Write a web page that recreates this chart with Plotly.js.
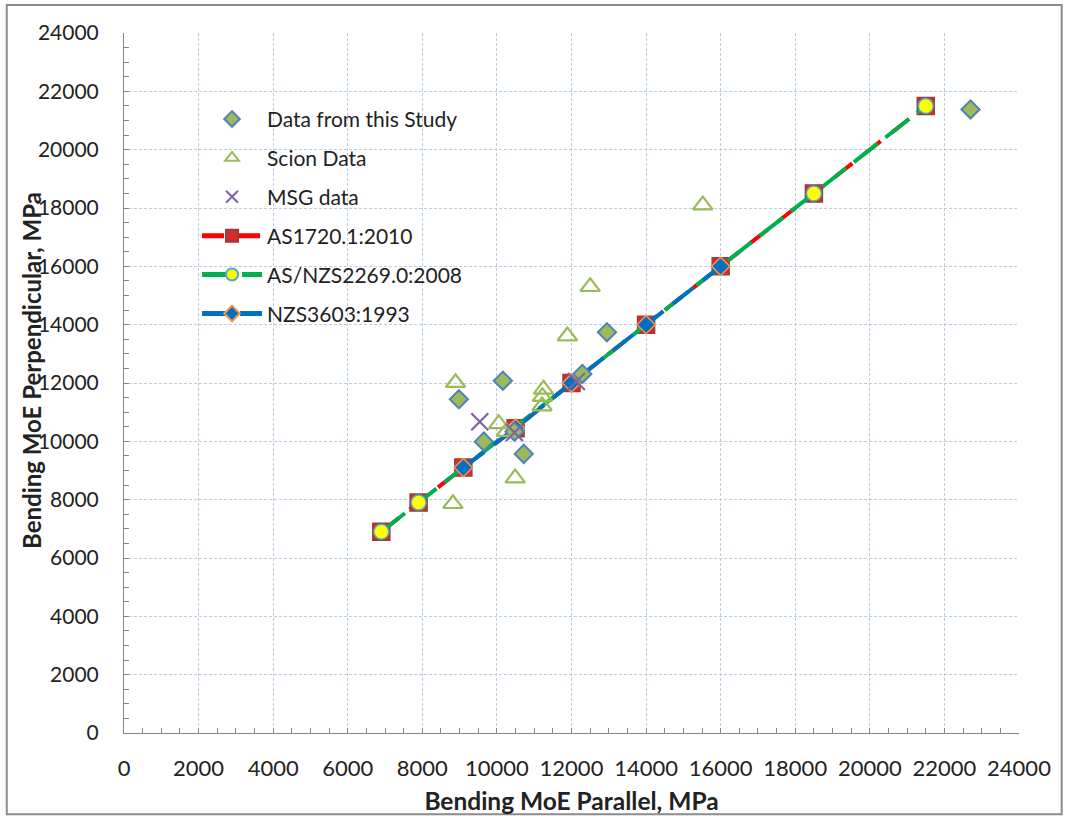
<!DOCTYPE html>
<html>
<head>
<meta charset="utf-8">
<script src="https://cdn.plot.ly/plotly-3.0.1.min.js"></script>
<style>
  html, body { margin: 0; padding: 0; background: #ffffff; }
  #chart { width: 1067px; height: 818px; }
</style>
</head>
<body>
<div id="chart"></div>
<script>
// ---- data ----
var studyX = [8980, 9650, 10160, 10470, 10720, 12290, 12950, 22700];
var studyY = [11440, 9990, 12080, 10330, 9570, 12310, 13740, 21380];

var scionX = [8890, 8820, 10050, 10250, 10490, 11250, 11220, 11210, 11890, 12500, 15520];
var scionY = [12010, 7860, 10600, 10330, 8740, 11780, 11530, 11210, 13610, 15300, 18100];

var msgX = [9540, 10470, 12130];
var msgY = [10670, 10300, 12050];

var as1720X = [6900, 7900, 9100, 10500, 12000, 14000, 16000, 18500, 21500];
var as1720Y = [6900, 7900, 9100, 10450, 12000, 14000, 16000, 18500, 21500];

var as2269X = [6900, 7900, 18500, 21500];
var as2269Y = [6900, 7900, 18500, 21500];

var nzs3603X = [9100, 10500, 12000, 14000, 16000];
var nzs3603Y = [9100, 10450, 12000, 14000, 16000];

var seriesNames = ['Data from this Study', 'Scion Data', 'MSG data',
                   'AS1720.1:2010', 'AS/NZS2269.0:2008', 'NZS3603:1993'];
var tickVals = [0, 2000, 4000, 6000, 8000, 10000, 12000, 14000, 16000, 18000, 20000, 22000, 24000];
var xTitle = 'Bending MoE Parallel, MPa';
var yTitle = 'Bending MoE Perpendicular, MPa';

var FONT = 'Lato, "Open Sans", sans-serif';

var traces = [
  {
    x: as1720X, y: as1720Y, name: seriesNames[3], type: 'scatter', mode: 'lines+markers',
    legendrank: 4, legendgroup: 'g4',
    line: { color: '#ff0000', width: 4, dash: '22px,14px' },
    marker: { symbol: 'square', size: 17, color: '#d42a2a',
              line: { color: '#9b3b3b', width: 1.5 } }
  },
  {
    x: as2269X, y: as2269Y, name: seriesNames[4], type: 'scatter', mode: 'lines+markers',
    legendrank: 5, legendgroup: 'g5',
    line: { color: '#00b050', width: 4, dash: '30px,10px' },
    marker: { symbol: 'circle', size: 15, color: '#ffff00',
              line: { color: '#4bacc6', width: 1.5 } }
  },
  {
    x: nzs3603X, y: nzs3603Y, name: seriesNames[5], type: 'scatter', mode: 'lines+markers',
    legendrank: 6, legendgroup: 'g6',
    line: { color: '#0070c0', width: 4, dash: '26px,12px' },
    marker: { symbol: 'diamond', size: 14, color: '#0070c0',
              line: { color: '#f79646', width: 1.5 } }
  },
  {
    x: studyX, y: studyY, name: seriesNames[0], type: 'scatter', mode: 'markers',
    legendrank: 1, legendgroup: 'g1',
    marker: { symbol: 'diamond', size: 14, color: '#9bbb59',
              line: { color: '#4f81bd', width: 2 } }
  },
  {
    x: scionX, y: scionY, name: seriesNames[1], type: 'scatter', mode: 'markers',
    legendrank: 2, legendgroup: 'g2',
    marker: { symbol: 'triangle-up-open', size: 17, color: '#9bbb59',
              line: { color: '#9bbb59', width: 2.2 } }
  },
  {
    x: msgX, y: msgY, name: seriesNames[2], type: 'scatter', mode: 'markers',
    legendrank: 3, legendgroup: 'g3',
    marker: { symbol: 'x-thin-open', size: 17, color: '#8064a2',
              line: { color: '#8064a2', width: 2.2 } }
  }
];

var axisCommon = {
  range: [0, 24000],
  tickvals: tickVals,
  ticktext: tickVals.map(String),
  showline: true, linecolor: '#868686', linewidth: 1,
  ticks: 'inside', ticklen: 5, tickcolor: '#868686', tickwidth: 1,
  showgrid: true, gridcolor: '#b9cde5', gridwidth: 1, griddash: '3px,2px',
  zeroline: false,
  minor: { dtick: 500, ticks: 'inside', ticklen: 5, tickcolor: '#868686', showgrid: false },
  automargin: false,
  fixedrange: true
};

var layout = {
  width: 1067, height: 818,
  margin: { l: 124, r: 48, t: 33, b: 85 },
  paper_bgcolor: '#ffffff', plot_bgcolor: '#ffffff',
  font: { family: FONT, color: '#222222' },
  showlegend: true,
  legend: {
    x: 0.0816, y: 0.906, xanchor: 'left', yanchor: 'top',
    bgcolor: 'rgba(0,0,0,0)', borderwidth: 0,
    font: { family: FONT, size: 21, color: '#222222' },
    traceorder: 'grouped', tracegroupgap: 8.6, itemwidth: 60,
    itemsizing: 'constant'
  },
  xaxis: Object.assign({}, axisCommon, {
    tickfont: { family: FONT, size: 22, color: '#222222' },
    ticklabelstandoff: 16,
    title: { text: xTitle, standoff: 12,
             font: { family: FONT, size: 24.5, color: '#222222', weight: 'bold' } }
  }),
  yaxis: Object.assign({}, axisCommon, {
    tickfont: { family: FONT, size: 21, color: '#222222' },
    ticklabelstandoff: 20
  }),
  annotations: [{
    text: yTitle, xref: 'paper', yref: 'paper',
    x: -0.1028, y: 0.5186, xanchor: 'center', yanchor: 'middle',
    textangle: -90, showarrow: false,
    font: { family: FONT, size: 24, color: '#222222', weight: 'bold' }
  }],
  shapes: [{
    type: 'rect', xref: 'paper', yref: 'paper',
    x0: -0.131, x1: 1.0477, y0: -0.116, y1: 1.040,
    line: { color: '#8c8c8c', width: 2 }, fillcolor: 'rgba(0,0,0,0)', layer: 'above'
  }]
};

Plotly.newPlot('chart', traces, layout, { displayModeBar: false, staticPlot: true });
</script>
</body>
</html>
